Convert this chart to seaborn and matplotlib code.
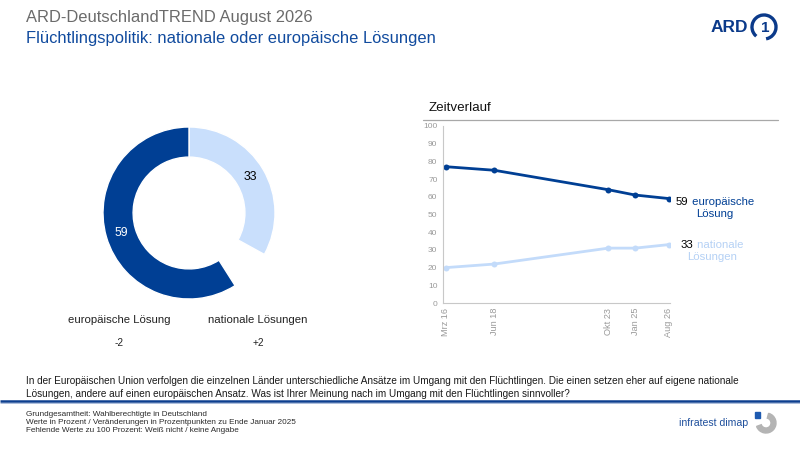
import matplotlib
matplotlib.use("Agg")
import matplotlib.pyplot as plt
import numpy as np
import pandas as pd
import seaborn as sns
from matplotlib import font_manager
from matplotlib.patches import Arc, Rectangle, Wedge

# current answers (donut)
answers = ["nationale Lösungen", "europäische Lösung"]
shares = [33, 59]
changes = [2, -2]

# trend (Zeitverlauf)
survey_labels = ["Mrz 16", "Jun 18", "Okt 23", "Jan 25", "Aug 26"]
survey_time = [2016.17, 2018.42, 2023.75, 2025.0, 2026.58]
trend_national = [20, 22, 31, 31, 33]
trend_european = [77, 75, 64, 61, 59]

title = "ARD-DeutschlandTREND August 2026"
subtitle = "Flüchtlingspolitik: nationale oder europäische Lösungen"
question = ("In der Europäischen Union verfolgen die einzelnen Länder unterschiedliche Ansätze im Umgang mit den "
            "Flüchtlingen. Die einen setzen eher auf eigene nationale\nLösungen, andere auf einen europäischen "
            "Ansatz. Was ist Ihrer Meinung nach im Umgang mit den Flüchtlingen sinnvoller?")
footnote = ("Grundgesamtheit: Wahlberechtigte in Deutschland\n"
            "Werte in Prozent / Veränderungen in Prozentpunkten zu Ende Januar 2025\n"
            "Fehlende Werte zu 100 Prozent: Weiß nicht / keine Angabe")

DARK = "#003f94"
LIGHT = "#c9dffc"
LIGHT_LINE = "#c3dbfa"
LIGHT_TEXT = "#b5d1f5"
GREY_TICK = "#9a9a9a"

sns.set_theme(style="white")
installed = {f.name for f in font_manager.fontManager.ttflist}
if "Liberation Sans Narrow" in installed:
    NARROW, nf = "Liberation Sans Narrow", 1.0
else:
    NARROW, nf = "Liberation Sans", 0.82
plt.rcParams["font.family"] = ["Liberation Sans", "DejaVu Sans"]

fig = plt.figure(figsize=(8, 4.5), dpi=100)
fig.patch.set_facecolor("white")

# overlay in image pixel coordinates for header/footer decoration
ov = fig.add_axes([0, 0, 1, 1], zorder=-1)
ov.set_xlim(0, 800)
ov.set_ylim(450, 0)
ov.axis("off")

ov.text(26, 17.5, title, family=NARROW, fontsize=14.5 * nf, color="#6b6b6b", va="center", ha="left")
ov.text(26, 39, subtitle, family=NARROW, fontsize=14.5 * nf, color="#114b9e", va="center", ha="left")

# ARD logo
ov.text(748, 28, "ARD", fontsize=12.5, fontweight="bold", color="#0b3a8a", ha="right", va="center")
ov.add_patch(Arc((764, 27), 24, 24, theta1=-230, theta2=80, lw=2.4, color="#0b3a8a"))
ov.text(765, 28, "1", fontsize=11, fontweight="bold", color="#0b3a8a", ha="center", va="center")

ov.text(26, 387.5, question, family=NARROW, fontsize=8.75 * nf, color="#1a1a1a",
        va="center", ha="left", linespacing=1.3)
ov.plot([0, 800], [401, 401], color="#0d3f8f", lw=1.8, solid_capstyle="butt")
ov.plot([0, 800], [402.8, 402.8], color="#9fb3d6", lw=0.6, solid_capstyle="butt")
ov.text(26, 422, footnote, family=NARROW, fontsize=7.1 * nf, color="#2b2b2b",
        va="center", ha="left", linespacing=1.2)

# infratest dimap logo
ov.text(748, 423, "infratest dimap", fontsize=7.6, color="#1e4f9c", ha="right", va="center")
ov.add_patch(Rectangle((755, 412), 5, 6, color="#1e5ab0"))
ov.add_patch(Wedge((766, 423), 10, -75, 160, width=5, color="#b4b4b4"))

# separator under "Zeitverlauf"
ov.text(429, 108, "Zeitverlauf", fontsize=9.6, color="#111111", ha="left", va="center")
ov.plot([423, 778], [120, 120], color="#a8a8a8", lw=0.9)

# donut
ax_d = fig.add_axes([103 / 800, (450 - 299) / 450, 172 / 800, 172 / 450])
gap = 100 - sum(shares)
ring = 0.35
wedges, _ = ax_d.pie([shares[0], gap, shares[1]], colors=[LIGHT, "white", DARK], startangle=90,
                     counterclock=False, radius=1,
                     wedgeprops=dict(width=ring, edgecolor="white", linewidth=1))
wedges[1].set_visible(False)
ax_d.set_xlim(-1, 1)
ax_d.set_ylim(-1, 1)
r_mid = 1 - ring / 2
for w, val, col in zip([wedges[0], wedges[2]], shares, ["black", "white"]):
    mid = np.deg2rad((w.theta1 + w.theta2) / 2)
    ax_d.text(r_mid * np.cos(mid), r_mid * np.sin(mid), str(val), color=col, fontsize=8.8,
              ha="center", va="center")

# answer labels and changes below the donut
for name, ch, x in zip(answers, changes, [258, 119]):
    ov.text(x, 320, name, fontsize=8.2, color="#222222", ha="center", va="center")
    ov.text(x, 343, f"{ch:+d}", fontsize=7.2, color="#222222", ha="center", va="center")

# trend line chart
ax_l = fig.add_axes([443 / 800, (450 - 303) / 450, (670 - 443) / 800, 177 / 450])
ax_l.set_facecolor("none")
df = pd.DataFrame({
    "zeit": survey_time * 2,
    "wert": trend_european + trend_national,
    "reihe": [answers[1]] * len(survey_time) + [answers[0]] * len(survey_time),
})
sns.lineplot(data=df, x="zeit", y="wert", hue="reihe",
             palette={answers[1]: DARK, answers[0]: LIGHT_LINE},
             marker="o", markersize=4.3, markeredgewidth=0, linewidth=2, legend=False, ax=ax_l)
ax_l.set_xlim(survey_time[0] - 0.14, survey_time[-1] + 0.05)
ax_l.set_ylim(0, 100)
ax_l.set_yticks(range(0, 101, 10))
ax_l.set_xticks(survey_time, survey_labels, rotation=90)
ax_l.set_xlabel("")
ax_l.set_ylabel("")
for s in ["top", "right"]:
    ax_l.spines[s].set_visible(False)
for s in ["left", "bottom"]:
    ax_l.spines[s].set_color("#c8c8c8")
    ax_l.spines[s].set_linewidth(0.8)
ax_l.tick_params(axis="y", length=0, pad=4, labelsize=6.0, labelcolor=GREY_TICK)
ax_l.tick_params(axis="x", direction="inout", length=4, width=0.6, color="#c8c8c8", pad=1.5,
                 labelsize=6.6, labelcolor=GREY_TICK)
for lab in ax_l.get_yticklabels() + ax_l.get_xticklabels():
    lab.set_family(NARROW)

# end labels: value in black, series name in its colour
end_style = {answers[1]: (DARK, 7, -3), answers[0]: (LIGHT_TEXT, 12, 0)}
fig.canvas.draw()
renderer = fig.canvas.get_renderer()
for name, series in [(answers[1], trend_european), (answers[0], trend_national)]:
    col, dx, dy = end_style[name]
    first, rest = name.split(" ", 1)
    t1 = ax_l.annotate(str(series[-1]), xy=(survey_time[-1], series[-1]), xytext=(dx, dy),
                       textcoords="offset pixels", ha="left", va="center", fontsize=8.2,
                       color="black", annotation_clip=False)
    t2 = ax_l.annotate(" " + first, xy=(1, 0), xycoords=t1, ha="left", va="bottom",
                       fontsize=8.2, color=col, annotation_clip=False)
    fig.canvas.draw()
    b1 = t1.get_window_extent(renderer)
    b2 = t2.get_window_extent(renderer)
    ax_l.annotate(rest, xy=((b1.x0 + b2.x1) / 2, (b1.y0 + b1.y1) / 2 - 12.5),
                  xycoords="figure pixels", ha="center", va="center", fontsize=8.2,
                  color=col, annotation_clip=False)

fig.savefig("out.png", dpi=100)
